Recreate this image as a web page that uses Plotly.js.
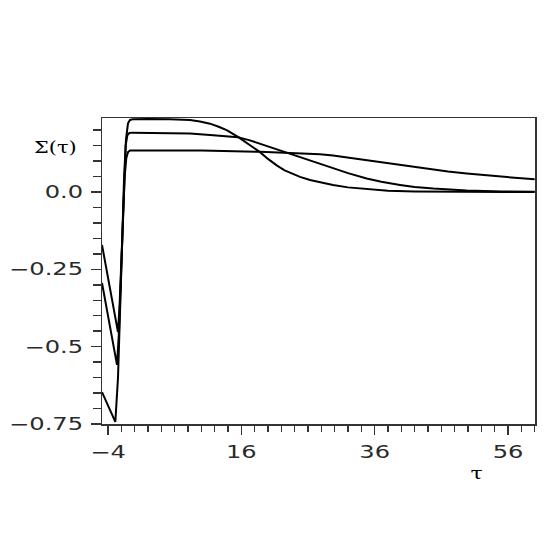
<!DOCTYPE html>
<html>
<head>
<meta charset="utf-8">
<script src="https://cdn.plot.ly/plotly-3.0.1.min.js"></script>
<style>html,body{margin:0;padding:0;background:#fff;}#chart{width:545px;height:545px;}</style>
</head>
<body>
<div id="chart"></div>
<script>
// Curve A (tallest plateau, deepest dip)
const tauA = [-4.9, -4.4, -3.9, -3.4, -2.9, -2.5, -2.2, -1.9, -1.6, -1.3, -1.0, -0.7, -0.3, 2, 5.3, 8.3, 9.8, 11.3, 12.6, 13.8, 15.5, 17.3, 18.8, 20, 21.3, 22.5, 23.8, 24.8, 26.3, 27.8, 29.75, 32, 34.8, 38, 42, 50, 60];
const sigA = [-0.647, -0.672, -0.697, -0.72, -0.743, -0.6, -0.42, -0.18, 0.04, 0.17, 0.222, 0.233, 0.235, 0.236, 0.235, 0.233, 0.228, 0.221, 0.211, 0.2, 0.178, 0.151, 0.129, 0.107, 0.086, 0.07, 0.057, 0.049, 0.039, 0.031, 0.023, 0.015, 0.009, 0.004, 0.002, 0.0005, 0.0];
// Curve B (middle plateau)
const tauB = [-4.9, -3.8, -2.65, -2.35, -2.1, -1.85, -1.6, -1.35, -1.1, -0.8, -0.4, 4, 8.3, 11.3, 13.5, 15.5, 17.3, 18.8, 20.3, 21.8, 23.3, 25.5, 27.8, 29.75, 32, 34.8, 37, 39.8, 42, 44.8, 47, 49.8, 55, 60];
const sigB = [-0.294, -0.43, -0.559, -0.45, -0.3, -0.1, 0.06, 0.15, 0.183, 0.191, 0.192, 0.191, 0.189, 0.184, 0.181, 0.177, 0.167, 0.156, 0.145, 0.135, 0.124, 0.108, 0.092, 0.077, 0.061, 0.044, 0.033, 0.023, 0.016, 0.011, 0.008, 0.005, 0.002, 0.001];
// Curve C (lowest plateau, shallowest dip)
const tauC = [-4.9, -3.7, -2.5, -2.25, -2.0, -1.75, -1.5, -1.25, -1.0, -0.7, 10, 18.8, 23.3, 24.8, 27.8, 29.75, 32, 34.8, 37, 39.8, 42, 44.8, 47, 49.8, 52, 54.8, 57, 60];
const sigC = [-0.171, -0.31, -0.453, -0.36, -0.22, -0.06, 0.05, 0.11, 0.129, 0.134, 0.134, 0.13, 0.126, 0.125, 0.122, 0.118, 0.111, 0.103, 0.096, 0.087, 0.08, 0.071, 0.066, 0.06, 0.055, 0.05, 0.046, 0.041];

const xTicks = [-4, 16, 36, 56];
const xTickText = ['\u22124', '16', '36', '56'];
const yTicks = [0, -0.25, -0.5, -0.75];
const yTickText = ['0.0', '\u22120.25', '\u22120.5', '\u22120.75'];

const line = {color: '#000', width: 2};
const traces = [
  {x: tauA, y: sigA, mode: 'lines', line: line, hoverinfo: 'skip'},
  {x: tauB, y: sigB, mode: 'lines', line: line, hoverinfo: 'skip'},
  {x: tauC, y: sigC, mode: 'lines', line: line, hoverinfo: 'skip'}
];

const tickFont = {family: 'DejaVu Sans', size: 17, color: '#2a2a2a'};
const layout = {
  width: 545, height: 545,
  margin: {l: 102, r: 10, t: 118, b: 121},
  paper_bgcolor: '#fff', plot_bgcolor: '#fff',
  showlegend: false,
  xaxis: {
    range: [-4.9, 60.05], showgrid: false, zeroline: false,
    showline: true, mirror: true, linecolor: '#333', linewidth: 1.5,
    ticks: 'outside', ticklen: 9, tickwidth: 1.5, tickcolor: '#333',
    tickmode: 'array', tickvals: xTicks, ticktext: xTickText,
    tickfont: tickFont, ticklabelstandoff: 3,
    minor: {tickmode: 'linear', tick0: -4, dtick: 2, ticklen: 6, tickwidth: 1.5, tickcolor: '#333', ticks: 'outside', showgrid: false}
  },
  yaxis: {
    range: [-0.75, 0.2393], showgrid: false, zeroline: false,
    showline: true, mirror: true, linecolor: '#333', linewidth: 1.5,
    ticks: 'outside', ticklen: 10, tickwidth: 1.5, tickcolor: '#333',
    tickmode: 'array', tickvals: yTicks, ticktext: yTickText,
    tickfont: tickFont, ticklabelstandoff: 4,
    minor: {tickmode: 'linear', tick0: 0, dtick: 0.05, ticklen: 8, tickwidth: 1.5, tickcolor: '#333', ticks: 'outside', showgrid: false}
  },
  annotations: [
    {text: '\u03A3(\u03C4)', xref: 'paper', yref: 'paper', x: -0.107, y: 0.905, xanchor: 'center', yanchor: 'middle', showarrow: false,
     font: {family: 'DejaVu Serif', size: 16, color: '#000'}},
    {text: '\u03C4', xref: 'paper', yref: 'paper', x: 0.866, y: -0.16, xanchor: 'center', yanchor: 'middle', showarrow: false,
     font: {family: 'DejaVu Serif', size: 17, color: '#000'}}
  ]
};

Plotly.newPlot('chart', traces, layout, {staticPlot: true, displayModeBar: false}).then(function (gd) {
  // the reference's labels are drawn horizontally widened; stretch the real text glyphs
  const stretch = function (sel, f) {
    gd.querySelectorAll(sel).forEach(function (t) {
      const w = t.getComputedTextLength();
      if (w > 0) {
        t.setAttribute('textLength', (w * f).toFixed(1));
        t.setAttribute('lengthAdjust', 'spacingAndGlyphs');
      }
    });
  };
  stretch('.xtick text, .ytick text', 1.42);
  stretch('.annotation-text', 1.3);
});
</script>
</body>
</html>
